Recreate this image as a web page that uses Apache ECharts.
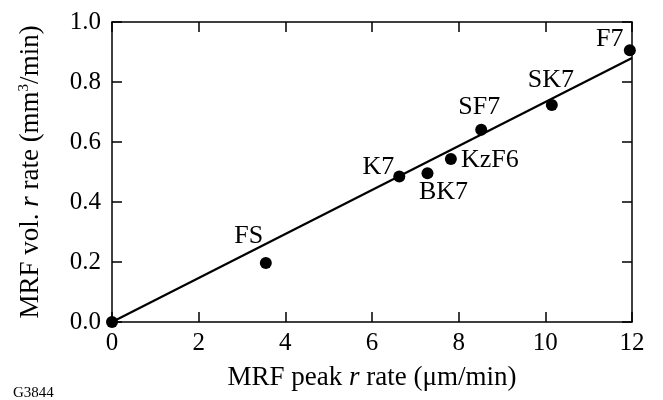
<!DOCTYPE html>
<html>
<head>
<meta charset="utf-8">
<script src="https://cdn.jsdelivr.net/npm/echarts@6/dist/echarts.min.js"></script>
<style>html,body{margin:0;padding:0;background:#fff}#c{width:663px;height:400px}</style>
</head>
<body>
<div id="c"></div>
<script>
const glassNames = ['0', 'FS', 'K7', 'BK7', 'KzF6', 'SF7', 'SK7', 'F7'];
const peakRate   = [0, 3.55, 6.63, 7.28, 7.82, 8.52, 10.15, 11.95];
const volRate    = [0, 0.197, 0.485, 0.496, 0.543, 0.641, 0.723, 0.906];
const fitX = [0, 12];
const fitY = [0, 0.88];
const xTicks = [0, 2, 4, 6, 8, 10, 12];
const yTicks = [0.0, 0.2, 0.4, 0.6, 0.8, 1.0];

// label offsets (style only)
const labelOffset = {
  'FS': [-17, -27], 'K7': [-21, -9], 'BK7': [16, 19], 'KzF6': [39, 1],
  'SF7': [-2, -23], 'SK7': [-1, -25], 'F7': [-20, -11]
};
const FONT = 'Liberation Serif';
const chart = echarts.init(document.getElementById('c'), null, {renderer: 'canvas'});
const axisLine = {show: true, onZero: false, lineStyle: {color: '#000', width: 1.5}};
const tick = {show: true, inside: true, length: 10, lineStyle: {color: '#000', width: 1.5}};
const pts = peakRate.map((x, i) => ({
  value: [x, volRate[i]],
  name: glassNames[i],
  label: i === 0 ? {show: false} : {show: true, position: 'inside', offset: labelOffset[glassNames[i]]}
}));
chart.setOption({
  animation: false,
  grid: {left: 112, right: 31, top: 22, bottom: 78},
  xAxis: [{
    type: 'value', min: xTicks[0], max: xTicks[xTicks.length - 1], interval: 2,
    name: 'MRF peak {i|r} rate (μm/min)', nameLocation: 'middle', nameGap: 42,
    nameTextStyle: {fontFamily: FONT, fontSize: 27, color: '#000',
      rich: {i: {fontFamily: FONT, fontSize: 27, fontStyle: 'italic', color: '#000'}}},
    axisLine, axisTick: tick, splitLine: {show: false},
    axisLabel: {fontFamily: FONT, fontSize: 25, color: '#000', margin: 9}
  }, {
    type: 'value', position: 'top', min: 0, max: 12, interval: 2,
    axisLine, axisTick: tick, splitLine: {show: false}, axisLabel: {show: false}
  }],
  yAxis: [{
    type: 'value', min: yTicks[0], max: yTicks[yTicks.length - 1], interval: 0.2,
    name: 'MRF vol. {i|r} rate (mm{s|3}/min)', nameLocation: 'middle', nameGap: 68,
    nameTextStyle: {fontFamily: FONT, fontSize: 27, color: '#000',
      rich: {i: {fontFamily: FONT, fontSize: 27, fontStyle: 'italic', color: '#000'},
             s: {fontFamily: FONT, fontSize: 15, color: '#000', verticalAlign: 'top', padding: [0, 0, 10, 0]}}},
    axisLine, axisTick: tick, splitLine: {show: false},
    axisLabel: {fontFamily: FONT, fontSize: 25, color: '#000', margin: 11, formatter: v => v.toFixed(1)}
  }, {
    type: 'value', position: 'right', min: 0, max: 1, interval: 0.2,
    axisLine, axisTick: tick, splitLine: {show: false}, axisLabel: {show: false}
  }],
  series: [{
    type: 'line', data: fitX.map((x, i) => [x, fitY[i]]), showSymbol: false, symbol: 'none',
    lineStyle: {color: '#000', width: 2.2}, silent: true, z: 2
  }, {
    type: 'scatter', data: pts, symbol: 'circle', symbolSize: 12,
    itemStyle: {color: '#000', opacity: 1}, z: 3,
    label: {fontFamily: FONT, fontSize: 26, color: '#000', formatter: p => p.name,
      align: 'center', verticalAlign: 'middle'}
  }],
  graphic: [{
    type: 'text', left: 13, top: 386,
    style: {text: 'G3844', fontFamily: FONT, fontSize: 15, fill: '#000'}
  }]
});
</script>
</body>
</html>
